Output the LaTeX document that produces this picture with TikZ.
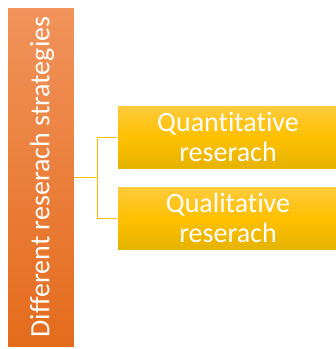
\documentclass[tikz,border=0pt]{standalone}
\usepackage{fontspec}
\setmainfont{Carlito}[Ligatures={NoCommon}]
\definecolor{orTop}{HTML}{F1935B}
\definecolor{orBot}{HTML}{E46B1C}
\definecolor{yeTop}{HTML}{FFCB3F}
\definecolor{yeMid}{HTML}{FFC000}
\definecolor{yeBot}{HTML}{E5B300}
\definecolor{conn}{HTML}{FFC000}
\tikzset{
  mainbox/.style={rectangle, inner sep=0pt, minimum width=67pt, minimum height=340pt,
    top color=orTop, bottom color=orBot, draw=white, line width=0.6pt},
  subbox/.style={rectangle, inner sep=0pt, minimum width=222pt, minimum height=64pt,
    top color=yeTop, bottom color=yeBot, middle color=yeMid, draw=white, line width=0.6pt,
    text=white, align=center, font=\fontsize{28}{30}\selectfont},
  vlabel/.style={text=white, rotate=90, font=\fontsize{28}{30}\selectfont, inner sep=0pt},
  link/.style={draw=conn, line width=1pt}
}
\begin{document}
\begin{tikzpicture}[x=1pt,y=1pt]
\useasboundingbox (0,-349) rectangle (336,0);
\node[mainbox] (L) at (40.5,-177) {};
\node[vlabel] (Lt) at (42,-177) {Different reserach strategies};
\node[subbox] (Q) at (228,-137) {Quantitative\\reserach};
\node[subbox] (R) at (228,-218) {Qualitative\\reserach};
\draw[link] (L.east) -- ++(23,0) coordinate (j);
\draw[link] (j) |- (Q.west);
\draw[link] (j) |- (R.west);
\end{tikzpicture}
\end{document}
